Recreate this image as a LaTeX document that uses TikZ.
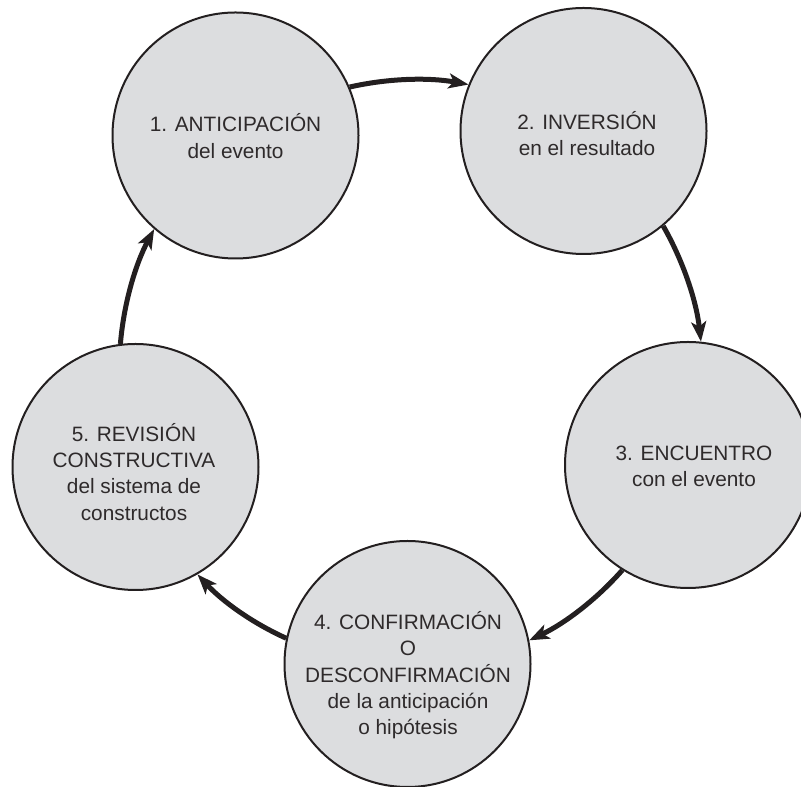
\documentclass[tikz,border=0pt]{standalone}
\usepackage{fontspec}
\setmainfont{Liberation Sans}
\usetikzlibrary{arrows.meta}
\definecolor{circfill}{RGB}{220,221,223}
\definecolor{ink}{RGB}{35,31,32}
\begin{document}
\begin{tikzpicture}[x=1pt,y=1pt,
  stage/.style={circle, draw=ink, line width=2pt, fill=circfill, minimum size=246pt, inner sep=0pt},
  lbl/.style={align=center, anchor=north, inner sep=0pt, text=ink!95, font=\fontsize{20.8}{26.3}\selectfont},
  flow/.style={draw=ink, line width=5pt, -{Stealth[length=20pt,width=15pt,inset=5pt]}, bend left=11.6, looseness=0.86}]
\path[use as bounding box] (0,0) rectangle (801,787);
\node[stage] (c1) at (235.5,651.5) {};
\node[stage] (c2) at (583.5,656) {};
\node[stage] (c3) at (688,322) {};
\node[stage] (c4) at (407.5,123) {};
\node[stage] (c5) at (135.5,320) {};
\node[lbl] (t1) at (235.5,676.3) {\rule{0pt}{21pt}1. ANTICIPACIÓN\\del evento};
\node[lbl] (t2) at (587,679) {\rule{0pt}{21pt}2. INVERSIÓN\\en el resultado};
\node[lbl] (t3) at (694,348) {\rule{0pt}{21pt}3. ENCUENTRO\\con el evento};
\node[lbl] (t4) at (408,178.7) {\rule{0pt}{21pt}4. CONFIRMACIÓN\\O\\DESCONFIRMACIÓN\\de la anticipación\\o hipótesis};
\node[lbl] (t5) at (134,367) {\rule{0pt}{21pt}5. REVISIÓN\\CONSTRUCTIVA\\del sistema de\\constructos};
\draw[flow] (c1.23) to (c2.158);
\draw[flow] (c2.310) to (c3.84.5);
\draw[flow] (c3.238.5) to (c4.11.8);
\draw[flow] (c4.168) to (c5.300.8);
\draw[flow] (c5.97.5) to (c1.229.5);
\end{tikzpicture}
\end{document}
